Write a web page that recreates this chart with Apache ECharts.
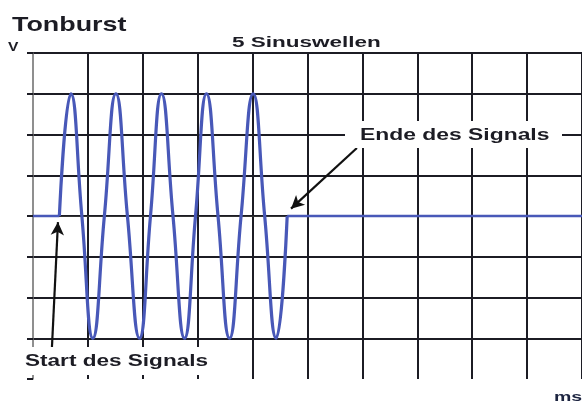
<!DOCTYPE html>
<html>
<head>
<meta charset="utf-8">
<script src="https://cdn.jsdelivr.net/npm/echarts@6/dist/echarts.min.js"></script>
<style>
  html, body { margin: 0; padding: 0; background: #fff; }
  #chart { width: 582px; height: 409px; }
</style>
</head>
<body>
<div id="chart"></div>
<script>
// ---- data (x in ms grid units, y in V grid units) ----
const burstX = [0.48, 0.69, 0.89, 1.09, 1.30, 1.51, 1.72, 1.94, 2.14, 2.34, 2.55, 2.76, 2.96, 3.16, 3.37, 3.58, 3.79, 4.01, 4.22, 4.43, 4.63];
const burstY = [0,    3,    0,   -3,    0,    3,    0,   -3,    0,    3,    0,   -3,    0,    3,    0,   -3,    0,    3,    0,   -3,    0];
const restBeforeX = [0, 0.48];
const restBeforeY = [0, 0];
const restAfterX = [4.63, 10];
const restAfterY = [0, 0];
// annotation arrows: [x, y] start and end in data units
const arrowEndeFrom = [5.90, 1.67];
const arrowEndeTo = [4.70, 0.18];
const arrowStartFrom = [0.345, -3.22];
const arrowStartTo = [0.455, -0.15];
const xTicks = { min: 0, max: 10, interval: 1 };
const yTicks = { min: -4, max: 4, interval: 1 };
const titleText = 'Tonburst';
const yUnit = 'V';
const xUnit = 'ms';
const subText = '5 Sinuswellen';
const endText = 'Ende des Signals';
const startText = 'Start des Signals';

const zip = (xs, ys) => xs.map((x, i) => [x, ys[i]]);
const BLUE = '#4858b8';
const INK = '#1c1c24';
const FONT = '"Liberation Sans", Arial, sans-serif';

const chart = echarts.init(document.getElementById('chart'), null, { renderer: 'canvas' });
chart.setOption({
  animation: false,
  backgroundColor: '#fff',
  grid: { left: 33, top: 53, width: 551, height: 326, containLabel: false },
  xAxis: {
    type: 'value', min: xTicks.min, max: xTicks.max, interval: xTicks.interval,
    axisLine: { show: true, lineStyle: { color: '#333', width: 1.2 } },
    axisTick: { show: false },
    axisLabel: { show: false },
    splitLine: { show: true, showMinLine: false, lineStyle: { color: INK, width: 2 } }
  },
  yAxis: {
    type: 'value', min: yTicks.min, max: yTicks.max, interval: yTicks.interval,
    axisLine: { show: true, lineStyle: { color: '#6a6a6a', width: 1.5 } },
    axisTick: { show: true, inside: false, length: 6, lineStyle: { color: INK, width: 2 } },
    axisLabel: { show: false },
    splitLine: { show: true, showMinLine: false, lineStyle: { color: INK, width: 2 } }
  },
  series: [
    {
      name: 'rest-before', type: 'line', data: zip(restBeforeX, restBeforeY),
      showSymbol: false, lineStyle: { color: BLUE, width: 2.5 }, z: 3
    },
    {
      name: 'rest-after', type: 'line', data: zip(restAfterX, restAfterY),
      showSymbol: false, lineStyle: { color: BLUE, width: 2.5 }, z: 3
    },
    {
      name: 'Tonburst', type: 'line', data: zip(burstX, burstY),
      smooth: 0.5, showSymbol: false, lineStyle: { color: BLUE, width: 3.2 }, z: 4,
      markLine: {
        silent: true, animation: false,
        symbol: ['none', 'arrow'], symbolSize: [10, 13],
        label: { show: false },
        lineStyle: { color: '#111', width: 2.2, type: 'solid' },
        data: [
          [{ coord: arrowEndeFrom }, { coord: arrowEndeTo }],
          [{ coord: arrowStartFrom }, { coord: arrowStartTo }]
        ]
      }
    }
  ],
  graphic: [
    { type: 'rect', z: 100, shape: { x: 345, y: 121, width: 217, height: 27 }, style: { fill: '#fff' } },
    { type: 'rect', z: 100, shape: { x: 18, y: 347, width: 225, height: 28 }, style: { fill: '#fff' } },
    { type: 'text', z: 101, x: 12, y: 25, scaleX: 1.28,
      style: { text: titleText, font: 'bold 21px ' + FONT, fill: INK, textVerticalAlign: 'middle' } },
    { type: 'text', z: 101, x: 8, y: 47, scaleX: 1.2,
      style: { text: yUnit, font: 'bold 13px ' + FONT, fill: INK, textVerticalAlign: 'middle' } },
    { type: 'text', z: 101, x: 232, y: 43, scaleX: 1.5,
      style: { text: subText, font: 'bold 15px ' + FONT, fill: INK, textVerticalAlign: 'middle' } },
    { type: 'text', z: 101, x: 360, y: 136, scaleX: 1.43,
      style: { text: endText, font: 'bold 16px ' + FONT, fill: INK, textVerticalAlign: 'middle' } },
    { type: 'text', z: 101, x: 25, y: 362, scaleX: 1.41,
      style: { text: startText, font: 'bold 16px ' + FONT, fill: INK, textVerticalAlign: 'middle' } },
    { type: 'text', z: 101, x: 554, y: 397, scaleX: 1.5,
      style: { text: xUnit, font: 'bold 13px ' + FONT, fill: '#1c2440', textVerticalAlign: 'middle' } }
  ]
});
</script>
</body>
</html>
